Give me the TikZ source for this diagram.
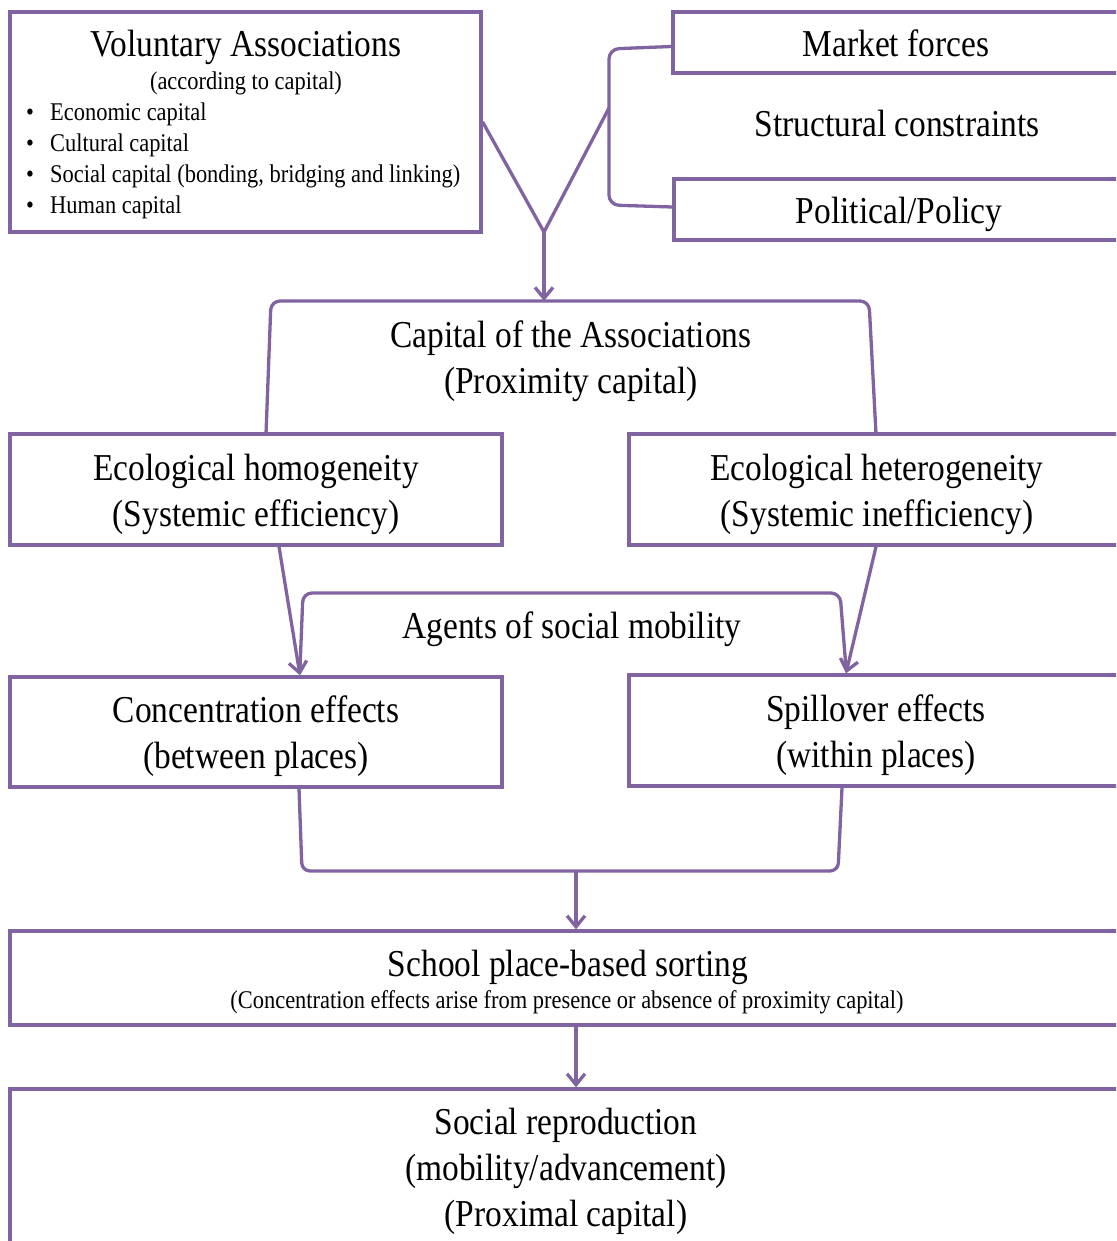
\documentclass[tikz,border=0pt]{standalone}
\usepackage{fontspec}
\setmainfont{Liberation Serif}[FakeStretch=0.88]
\usetikzlibrary{arrows.meta,calc}
\definecolor{vpurple}{RGB}{128,100,162}
\begin{document}
\begin{tikzpicture}[x=1pt,y=-1pt,
  conn/.style={draw=vpurple,line width=3.3pt},
  arr/.style={-{Straight Barb[length=11pt,width=18pt]}},
  bigtxt/.style={font=\fontsize{38}{46}\selectfont,align=center,inner sep=0pt},
  smalltxt/.style={font=\fontsize{25.5}{30.6}\selectfont,align=center,inner sep=0pt},
  box/.style={draw=vpurple,line width=3.3pt,rectangle,inner sep=0pt}]
\useasboundingbox (0,0) rectangle (1116,1241);
\clip (0,0) rectangle (1116,1241);

% voluntary associations
\node[box,minimum width=471pt,minimum height=220pt] (va) at (245.5,122) {};
\node[bigtxt] (vatitle) at (246,47) {Voluntary Associations};
\node[smalltxt] (vasub) at (246,83) {(according to capital)};
\foreach \i/\t/\yy in {1/Economic capital/120.5,2/Cultural capital/151.5,
    3/{Social capital (bonding, bridging and linking)}/182.5,4/Human capital/213.5}{
  \node[smalltxt,anchor=base] (dot\i) at (30,\yy) {•};
  \node[smalltxt,anchor=base west] (item\i) at (50,\yy) {\t};
}

% external forces
\node[box,minimum width=446pt,minimum height=61pt] (mkt) at (896,42.5) {};
\node[bigtxt] (mkttext) at (896,43.5) {Market forces};
\node[bigtxt] (sc) at (897,124) {Structural constraints};
\node[box,minimum width=450pt,minimum height=61pt] (pol) at (899,209.5) {};
\node[bigtxt] (poltext) at (899,214.5) {Political/Policy};
\draw[conn,rounded corners=10pt] ([yshift=-4pt]mkt.west) -- (609,49) -- (609,205) -- ([yshift=2.5pt]pol.west);

% merge into capital of the associations
\coordinate (apex) at (544,232);
\coordinate (brk) at (609,108);
\coordinate (captop) at (544,301);
\draw[conn,line join=miter] (va.east) -- (apex) -- (brk);
\draw[conn,arr] (apex) -- (captop);
\draw[conn,rounded corners=9pt] (266,434) -- (271,301) -- (869,301) -- (876,434);
\node[bigtxt] (capt) at (571,361) {Capital of the Associations\\(Proximity capital)};

% ecology
\node[box,minimum width=492pt,minimum height=111pt] (eh) at (256,489.5) {};
\node[bigtxt] (ehtext) at (256,494) {Ecological homogeneity\\(Systemic efficiency)};
\node[box,minimum width=496pt,minimum height=111pt] (ehet) at (877,489.5) {};
\node[bigtxt] (ehettext) at (877,494) {Ecological heterogeneity\\(Systemic inefficiency)};

% effects
\node[box,minimum width=492pt,minimum height=110pt] (conc) at (256,732) {};
\node[bigtxt] (conctext) at (256,736) {Concentration effects\\(between places)};
\node[box,minimum width=494pt,minimum height=111pt] (spill) at (876,730.5) {};
\node[bigtxt] (spilltext) at (876,735) {Spillover effects\\(within places)};
\draw[conn,rounded corners=9pt] (300,668) -- (303,593) -- (840,593) -- (846,668);
\node[bigtxt] (agt) at (572,629) {Agents of social mobility};
\draw[conn,arr] ([xshift=23pt]eh.south) -- ([xshift=44pt]conc.north);
\draw[conn,arr] ([xshift=-1pt]ehet.south) -- ([xshift=-30pt]spill.north);

% sorting
\node[box,minimum width=1116pt,minimum height=94pt] (sch) at (568,978) {};
\node[bigtxt,anchor=base] (schtitle) at (568,976) {School place-based sorting};
\node[smalltxt,anchor=base] (schsub) at (567,1008.5) {(Concentration effects arise from presence or absence of proximity capital)};
\coordinate (join) at (576,871);
\draw[conn,rounded corners=8pt] ([xshift=43pt]conc.south) -- (302,871) -- (838,871) -- ([xshift=-34pt]spill.south);
\draw[conn,arr] (join) -- ([xshift=8pt]sch.north);

% outcome
\node[box,minimum width=1112pt,minimum height=158pt] (soc) at (566,1168) {};
\node[bigtxt] (soctext) at (566,1171) {Social reproduction\\(mobility/advancement)\\(Proximal capital)};
\draw[conn,arr] ([xshift=8pt]sch.south) -- ([xshift=10pt]soc.north);
\end{tikzpicture}
\end{document}
